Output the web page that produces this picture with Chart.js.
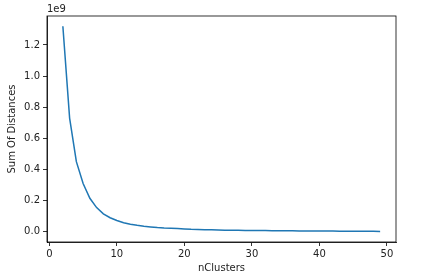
<!DOCTYPE html>
<html>
<head>
<meta charset="utf-8">
<script src="https://cdn.jsdelivr.net/npm/chart.js@4"></script>
<style>
  html, body { margin: 0; padding: 0; background: #fff; }
  #wrap { width: 429px; height: 279px; position: relative; }
</style>
</head>
<body>
<div id="wrap"><canvas id="c" width="429" height="279"></canvas></div>
<script>
// Data
const nClusters = [2,3,4,5,6,7,8,9,10,11,12,13,14,15,16,17,18,19,20,21,22,23,24,25,26,27,28,29,30,31,32,33,34,35,36,37,38,39,40,41,42,43,44,45,46,47,48,49];
const sumOfDistances = [
  1.32e9, 0.73e9, 0.45e9, 0.31e9, 0.215e9, 0.155e9, 0.115e9, 0.09e9, 0.072e9, 0.058e9,
  0.048e9, 0.041e9, 0.035e9, 0.031e9, 0.027e9, 0.024e9, 0.022e9, 0.020e9, 0.018e9, 0.016e9,
  0.015e9, 0.013e9, 0.012e9, 0.011e9, 0.010e9, 0.0095e9, 0.009e9, 0.0085e9, 0.008e9, 0.0075e9,
  0.0071e9, 0.0067e9, 0.0063e9, 0.006e9, 0.0057e9, 0.0054e9, 0.0051e9, 0.0048e9, 0.0045e9, 0.0042e9,
  0.004e9, 0.0037e9, 0.0035e9, 0.0032e9, 0.003e9, 0.0027e9, 0.0025e9, 0.0022e9
];
const xTicks = [0, 10, 20, 30, 40, 50];
const yTicks = [0, 0.2e9, 0.4e9, 0.6e9, 0.8e9, 1.0e9, 1.2e9];
const xTitle = 'nClusters';
const yTitle = 'Sum Of Distances';
const yOffsetText = '1e9';

const FONT = { family: 'DejaVu Sans', size: 10 };
const TXT = '#222';

const framePlugin = {
  id: 'frame',
  afterDraw(chart) {
    const { ctx, chartArea: a } = chart;
    ctx.save();
    ctx.strokeStyle = '#000';
    ctx.lineWidth = 0.8;
    ctx.strokeRect(a.left, a.top, a.right - a.left, a.bottom - a.top);
    ctx.fillStyle = TXT;
    ctx.font = '10px "DejaVu Sans"';
    ctx.textAlign = 'left';
    ctx.textBaseline = 'bottom';
    ctx.fillText(yOffsetText, a.left, a.top - 2);
    ctx.restore();
  }
};

new Chart(document.getElementById('c'), {
  type: 'line',
  data: {
    datasets: [{
      data: nClusters.map((x, i) => ({ x, y: sumOfDistances[i] })),
      borderColor: '#1f77b4',
      borderWidth: 1.5,
      pointRadius: 0,
      tension: 0,
      fill: false
    }]
  },
  options: {
    responsive: false,
    animation: false,
    devicePixelRatio: 1,
    layout: { padding: { top: 16, right: 33, left: 0, bottom: 0 } },
    plugins: { legend: { display: false }, tooltip: { enabled: false } },
    scales: {
      x: {
        type: 'linear',
        min: -0.35,
        max: 51.35,
        afterBuildTicks: s => { s.ticks = xTicks.map(v => ({ value: v })); },
        afterFit: s => { s.height = 37; },
        grid: { drawOnChartArea: false, drawTicks: true, tickLength: 4, color: '#000', tickWidth: 0.8 },
        border: { display: true, color: '#000', width: 0.8 },
        ticks: { font: FONT, color: TXT, padding: 2, maxRotation: 0, callback: v => String(v) },
        title: { display: true, text: xTitle, font: FONT, color: TXT, padding: { top: 0, bottom: 5 } }
      },
      y: {
        type: 'linear',
        min: -0.066e9,
        max: 1.386e9,
        afterBuildTicks: s => { s.ticks = yTicks.map(v => ({ value: v })); },
        afterFit: s => { s.width = 47; },
        grid: { drawOnChartArea: false, drawTicks: true, tickLength: 4, color: '#000', tickWidth: 0.8 },
        border: { display: true, color: '#000', width: 0.8 },
        ticks: { font: FONT, color: TXT, padding: 3, callback: v => (v / 1e9).toFixed(1) },
        title: { display: true, text: yTitle, font: FONT, color: TXT, padding: { top: 6, bottom: 0 } }
      }
    }
  },
  plugins: [framePlugin]
});
</script>
</body>
</html>
